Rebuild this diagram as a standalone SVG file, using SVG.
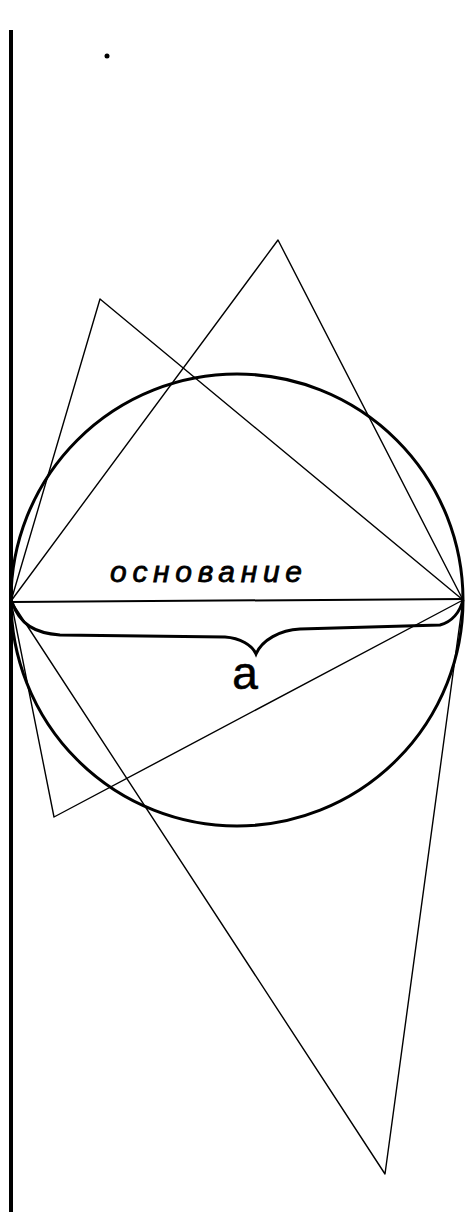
<svg xmlns="http://www.w3.org/2000/svg" width="466" height="1214" viewBox="0 0 466 1214">
<style>
.thin{fill:none;stroke:#000;stroke-width:1.4;stroke-linejoin:round}
.thick{fill:none;stroke:#000;stroke-width:3}
.lbl{font-family:"Liberation Sans",sans-serif;fill:#000}
</style>
<rect width="466" height="1214" fill="#fff"/>
<g id="wall"><line x1="11" y1="30" x2="11" y2="1212" stroke="#000" stroke-width="4"/></g>
<circle id="dot" cx="107" cy="56" r="2.5" fill="#000"/>
<g id="circle"><circle cx="237" cy="600" r="226" class="thick"/></g>
<g id="connectors">
<polyline class="thin" points="11,601 100,299 463,600"/>
<polyline class="thin" points="11,601 278,240 463,600"/>
<polyline class="thin" points="11,601 54,817 463,600"/>
<polyline class="thin" points="11,601 385,1174 463,600"/>
<line x1="11" y1="602" x2="463" y2="599" stroke="#000" stroke-width="2"/>
<path class="thick" d="M12,602 C20,625 35,633 60,635 L225,637 C240,638 252,645 256,654 C262,640 280,630 300,629 L440,625 C452,622 460,612 463,600"/>
</g>
<g id="base-label"><text class="lbl" x="110" y="582" font-size="30" font-style="italic" stroke="#000" stroke-width="0.8" textLength="192" lengthAdjust="spacing">основание</text></g>
<g id="a-label"><text class="lbl" x="245" y="689" font-size="46" text-anchor="middle" stroke="#000" stroke-width="0.6">a</text></g>
</svg>
